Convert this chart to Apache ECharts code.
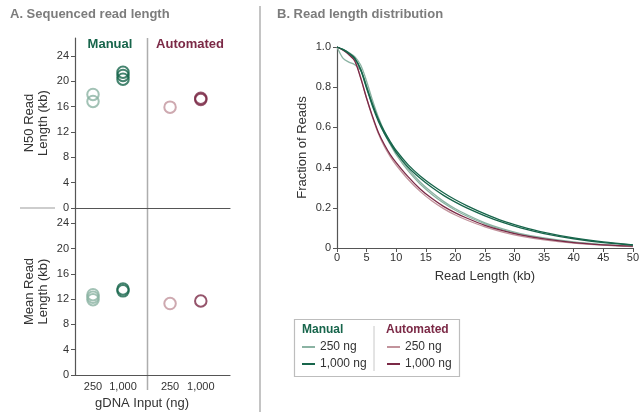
<!DOCTYPE html>
<html>
<head>
<meta charset="utf-8">
<script src="https://cdn.jsdelivr.net/npm/echarts@6/dist/echarts.min.js"></script>
<style>
  html, body { margin: 0; padding: 0; background: #fff; }
  #chart { width: 642px; height: 412px; }
</style>
</head>
<body>
<div id="chart"></div>
<script>
// panel A: dose categories and per-replicate values (kb)
var doseLabels = ['250', '1,000'];
var yTicksA = [0, 4, 8, 12, 16, 20, 24];
var n50Manual250 = [17.9, 16.8];
var n50Manual1000 = [21.4, 20.9, 20.3];
var n50Auto250 = [15.9];
var n50Auto1000 = [17.3, 17.1];
var meanManual250 = [12.7, 12.3, 11.9];
var meanManual1000 = [13.6, 13.3];
var meanAuto250 = [11.3];
var meanAuto1000 = [11.7];

// panel B: fraction of reads longer than a given length
var readLengthKb = [0, 1, 2, 3, 4, 5, 6, 7, 8, 9, 10, 12, 14, 16, 18, 20, 22, 25, 28, 31, 35, 40, 45, 50];
var manual1000a = [1.0, 0.988, 0.97, 0.945, 0.89, 0.80, 0.715, 0.64, 0.58, 0.53, 0.485, 0.415, 0.36, 0.315, 0.275, 0.24, 0.21, 0.17, 0.135, 0.108, 0.078, 0.05, 0.03, 0.016];
var manual1000b = [1.0, 0.987, 0.968, 0.942, 0.885, 0.795, 0.705, 0.63, 0.57, 0.52, 0.475, 0.403, 0.348, 0.302, 0.262, 0.228, 0.198, 0.16, 0.127, 0.1, 0.072, 0.046, 0.027, 0.015];
var manual250a = [1.0, 0.988, 0.972, 0.952, 0.91, 0.83, 0.735, 0.65, 0.58, 0.525, 0.475, 0.395, 0.33, 0.277, 0.232, 0.195, 0.165, 0.125, 0.095, 0.072, 0.05, 0.03, 0.017, 0.009];
var manual250b = [1.0, 0.945, 0.925, 0.912, 0.885, 0.81, 0.72, 0.64, 0.57, 0.515, 0.465, 0.385, 0.32, 0.268, 0.224, 0.188, 0.158, 0.12, 0.09, 0.068, 0.047, 0.028, 0.016, 0.008];
var auto1000 = [1.0, 0.985, 0.962, 0.93, 0.845, 0.745, 0.655, 0.575, 0.515, 0.465, 0.425, 0.355, 0.295, 0.247, 0.207, 0.175, 0.148, 0.113, 0.086, 0.065, 0.045, 0.027, 0.016, 0.009];
var auto250 = [1.0, 0.985, 0.963, 0.933, 0.85, 0.745, 0.65, 0.568, 0.505, 0.455, 0.413, 0.342, 0.283, 0.235, 0.196, 0.164, 0.138, 0.105, 0.079, 0.059, 0.04, 0.024, 0.014, 0.007];

var FONT = "'Liberation Sans', Arial, sans-serif";
var AXIS = '#555';
var TXT = '#333';
var cManual250 = '#8bb3a3';
var cManual1000 = '#17654b';
var cAuto250 = '#c2939c';
var cAuto1000 = '#7b2946';

function pts(x, vals) {
  return vals.map(function (v) { return [x, v]; });
}
function pairs(xs, ys) {
  return xs.map(function (x, i) { return [x, ys[i]]; });
}

function scatterSeries(name, axis, x, vals, color) {
  return {
    name: name, type: 'scatter', xAxisIndex: axis, yAxisIndex: axis,
    data: pts(x, vals), symbol: 'circle', symbolSize: 11.5,
    itemStyle: { color: 'rgba(0,0,0,0)', borderColor: color, borderWidth: 2 },
    emphasis: { disabled: true }
  };
}
function curve(name, vals, color) {
  return {
    name: name, type: 'line', xAxisIndex: 4, yAxisIndex: 4,
    data: pairs(readLengthKb, vals), smooth: 0.3, showSymbol: false,
    lineStyle: { color: color, width: 1.3 }, itemStyle: { color: color }
  };
}

function scatterX(grid, min, max, labels) {
  return {
    type: 'value', gridIndex: grid, min: min, max: max,
    axisLine: { show: true, onZero: false, lineStyle: { color: AXIS, width: 1.2 } },
    axisTick: { show: false },
    splitLine: { show: false },
    axisLabel: labels ? {
      show: true, customValues: [0, 1], margin: 6, fontSize: 11, color: TXT, fontFamily: FONT,
      formatter: function (v) { return doseLabels[v]; }
    } : { show: false }
  };
}
function scatterY(grid, max, name, shown) {
  return {
    type: 'value', gridIndex: grid, min: 0, max: max,
    show: shown,
    name: name, nameLocation: 'middle', nameGap: 25,
    nameTextStyle: { fontSize: 13, color: TXT, fontFamily: FONT, lineHeight: 14 },
    axisLine: { show: true, onZero: false, lineStyle: { color: AXIS, width: 1.2 } },
    axisTick: { show: true, customValues: yTicksA, length: 4, lineStyle: { color: AXIS } },
    axisLabel: { customValues: yTicksA, margin: 6, fontSize: 11, color: TXT, fontFamily: FONT },
    splitLine: { show: false }
  };
}

var option = {
  animation: false,
  backgroundColor: '#fff',
  textStyle: { fontFamily: FONT },
  title: [
    { text: 'A. Sequenced read length', left: 10, top: 8, padding: 0,
      textStyle: { fontSize: 13, fontWeight: 'bold', color: '#7c7c7c', fontFamily: FONT } },
    { text: 'B. Read length distribution', left: 277, top: 8, padding: 0,
      textStyle: { fontSize: 13, fontWeight: 'bold', color: '#7c7c7c', fontFamily: FONT } }
  ],
  grid: [
    { left: 75, top: 38, width: 72, height: 170 },
    { left: 147, top: 38, width: 83, height: 170 },
    { left: 75, top: 208, width: 72, height: 167 },
    { left: 147, top: 208, width: 83, height: 167 },
    { left: 337, top: 47, width: 299, height: 201 }
  ],
  xAxis: [
    scatterX(0, -0.6, 1.8, false),
    scatterX(1, -0.75, 1.95, false),
    scatterX(2, -0.6, 1.8, true),
    scatterX(3, -0.75, 1.95, true),
    {
      type: 'value', gridIndex: 4, min: 0, max: 50, interval: 5,
      name: 'Read Length (kb)', nameLocation: 'middle', nameGap: 22,
      nameTextStyle: { fontSize: 13, color: TXT, fontFamily: FONT },
      axisLine: { show: true, onZero: false, lineStyle: { color: AXIS, width: 1.2 } },
      axisTick: { show: true, length: 4, lineStyle: { color: AXIS } },
      axisLabel: { margin: 4, fontSize: 11, color: TXT, fontFamily: FONT },
      splitLine: { show: false }
    }
  ],
  yAxis: [
    scatterY(0, 26.8, 'N50 Read\nLength (kb)', true),
    scatterY(1, 26.8, '', false),
    scatterY(2, 26.4, 'Mean Read\nLength (kb)', true),
    scatterY(3, 26.4, '', false),
    {
      type: 'value', gridIndex: 4, min: 0, max: 1, interval: 0.2,
      name: 'Fraction of Reads', nameLocation: 'middle', nameGap: 28,
      nameTextStyle: { fontSize: 13, color: TXT, fontFamily: FONT },
      axisLine: { show: true, onZero: false, lineStyle: { color: AXIS, width: 1.2 } },
      axisTick: { show: true, length: 4, lineStyle: { color: AXIS } },
      axisLabel: { margin: 6, fontSize: 11, color: TXT, fontFamily: FONT,
        formatter: function (v) { return v === 0 ? '0' : v.toFixed(1); } },
      splitLine: { show: false }
    }
  ],
  legend: [
    { data: ['Manual 250 ng', 'Manual 1,000 ng'], orient: 'vertical', left: 302, top: 340, padding: 0,
      icon: 'rect', itemWidth: 13, itemHeight: 2, itemGap: 3, selectedMode: false,
      textStyle: { fontSize: 12, color: TXT, fontFamily: FONT, lineHeight: 14 },
      formatter: function (n) { return n.replace('Manual ', ''); } },
    { data: ['Automated 250 ng', 'Automated 1,000 ng'], orient: 'vertical', left: 387, top: 340, padding: 0,
      icon: 'rect', itemWidth: 13, itemHeight: 2, itemGap: 3, selectedMode: false,
      textStyle: { fontSize: 12, color: TXT, fontFamily: FONT, lineHeight: 14 },
      formatter: function (n) { return n.replace('Automated ', ''); } }
  ],
  series: [
    curve('Manual 250 ng', manual250a, cManual250),
    curve('Manual 250 ng', manual250b, cManual250),
    curve('Automated 250 ng', auto250, cAuto250),
    curve('Automated 1,000 ng', auto1000, cAuto1000),
    curve('Manual 1,000 ng', manual1000b, cManual1000),
    curve('Manual 1,000 ng', manual1000a, cManual1000),
    scatterSeries('n50 m250', 0, 0, n50Manual250, cManual250),
    scatterSeries('n50 m1000', 0, 1, n50Manual1000, cManual1000),
    scatterSeries('n50 a250', 1, 0, n50Auto250, cAuto250),
    scatterSeries('n50 a1000', 1, 1, n50Auto1000, cAuto1000),
    scatterSeries('mean m250', 2, 0, meanManual250, cManual250),
    scatterSeries('mean m1000', 2, 1, meanManual1000, cManual1000),
    scatterSeries('mean a250', 3, 0, meanAuto250, cAuto250),
    scatterSeries('mean a1000', 3, 1, meanAuto1000, cAuto1000)
  ],
  graphic: [
    { type: 'line', shape: { x1: 260, y1: 6, x2: 260, y2: 412 }, style: { stroke: '#c4c4c4', lineWidth: 2 } },
    { type: 'line', shape: { x1: 20, y1: 208, x2: 55, y2: 208 }, style: { stroke: '#bdbdbd', lineWidth: 1.5 } },
    { type: 'line', shape: { x1: 147.5, y1: 38, x2: 147.5, y2: 390 }, style: { stroke: '#adadad', lineWidth: 1.5 } },
    { type: 'text', x: 110, y: 44, style: { text: 'Manual', fill: cManual1000, font: 'bold 13px ' + FONT, textAlign: 'center', textVerticalAlign: 'middle' } },
    { type: 'text', x: 190, y: 44, style: { text: 'Automated', fill: cAuto1000, font: 'bold 13px ' + FONT, textAlign: 'center', textVerticalAlign: 'middle' } },
    { type: 'text', x: 142, y: 403, style: { text: 'gDNA Input (ng)', fill: TXT, font: '13px ' + FONT, textAlign: 'center', textVerticalAlign: 'middle' } },
    { type: 'rect', shape: { x: 294.5, y: 319.5, width: 165, height: 57 }, style: { fill: 'none', stroke: '#bdbdbd', lineWidth: 1.2 } },
    { type: 'line', shape: { x1: 374, y1: 326, x2: 374, y2: 371 }, style: { stroke: '#c8c8c8', lineWidth: 1 } },
    { type: 'text', x: 302, y: 330, style: { text: 'Manual', fill: cManual1000, font: 'bold 12px ' + FONT, textVerticalAlign: 'middle' } },
    { type: 'text', x: 386, y: 330, style: { text: 'Automated', fill: cAuto1000, font: 'bold 12px ' + FONT, textVerticalAlign: 'middle' } }
  ]
};

var chart = echarts.init(document.getElementById('chart'));
chart.setOption(option);
window.addEventListener('resize', function () {
  chart.resize();
});
</script>
</body>
</html>
